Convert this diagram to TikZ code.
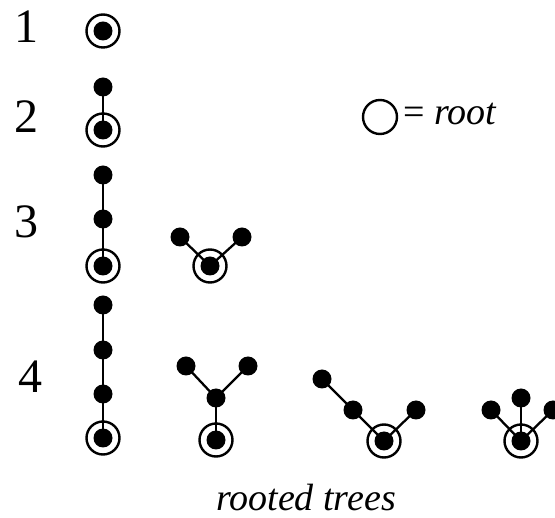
\documentclass[tikz,border=0pt]{standalone}
\usepackage{fontspec}
\setmainfont{Liberation Serif}
\begin{document}
\begin{tikzpicture}[x=1pt,y=-1pt,
  dot/.style={circle,fill=black,inner sep=0pt,minimum size=19pt},
  rootnode/.style={circle,draw=black,line width=2.4pt,inner sep=0pt,minimum size=33pt,
    path picture={\fill[black] (path picture bounding box.center) circle (9.5pt);}},
  ring/.style={circle,draw=black,line width=2.4pt,inner sep=0pt,minimum size=34pt},
  edge/.style={draw=black,line width=2.3pt},
  num/.style={font=\fontsize{48}{50}\selectfont,anchor=base,inner sep=0pt},
  lbl/.style={font=\fontsize{38}{40}\selectfont,inner sep=0pt}]
\useasboundingbox (0,0) rectangle (555,518);
% labels
\node[num] (n1) at (26,43) {1};
\node[num] (n2) at (27,133) {2};
\node[num] (n3) at (27,238) {3};
\node[num] (n4) at (31,393) {4};
% legend
\node[ring] (leg) at (380,117) {};
\node[lbl,anchor=base west] (legt) at (403,125) {= \textit{root}};
\node[lbl,anchor=base] (cap) at (306,511) {\textit{rooted trees}};
% n=1
\node[rootnode] (a1) at (103,31) {};
% n=2
\node[rootnode] (b1) at (103,130) {};
\node[dot] (b2) at (103,87) {};
\draw[edge] (b1.center) -- (b2.center);
% n=3
\node[rootnode] (c1) at (103,266) {};
\node[dot] (c2) at (103,219) {};
\node[dot] (c3) at (103,175) {};
\draw[edge] (c1.center) -- (c2.center) -- (c3.center);
\node[rootnode] (d1) at (210,266) {};
\node[dot] (d2) at (180,237) {};
\node[dot] (d3) at (242,237) {};
\draw[edge] (d2.center) -- (d1.center) -- (d3.center);
% n=4
\node[rootnode] (e1) at (103,438) {};
\node[dot] (e2) at (103,394) {};
\node[dot] (e3) at (103,350) {};
\node[dot] (e4) at (103,305) {};
\draw[edge] (e1.center) -- (e2.center) -- (e3.center) -- (e4.center);
\node[rootnode] (f1) at (216,440) {};
\node[dot] (f2) at (216,398) {};
\node[dot] (f3) at (186,366) {};
\node[dot] (f4) at (248,366) {};
\draw[edge] (f1.center) -- (f2.center);
\draw[edge] (f3.center) -- (f2.center) -- (f4.center);
\node[rootnode] (g1) at (384,441) {};
\node[dot] (g2) at (353,410) {};
\node[dot] (g3) at (322,379) {};
\node[dot] (g4) at (416,410) {};
\draw[edge] (g3.center) -- (g2.center) -- (g1.center) -- (g4.center);
\node[rootnode] (h1) at (521,441) {};
\node[dot] (h2) at (521,398) {};
\node[dot] (h3) at (491,410) {};
\node[dot] (h4) at (553,410) {};
\draw[edge] (h1.center) -- (h2.center);
\draw[edge] (h3.center) -- (h1.center) -- (h4.center);
\end{tikzpicture}
\end{document}
